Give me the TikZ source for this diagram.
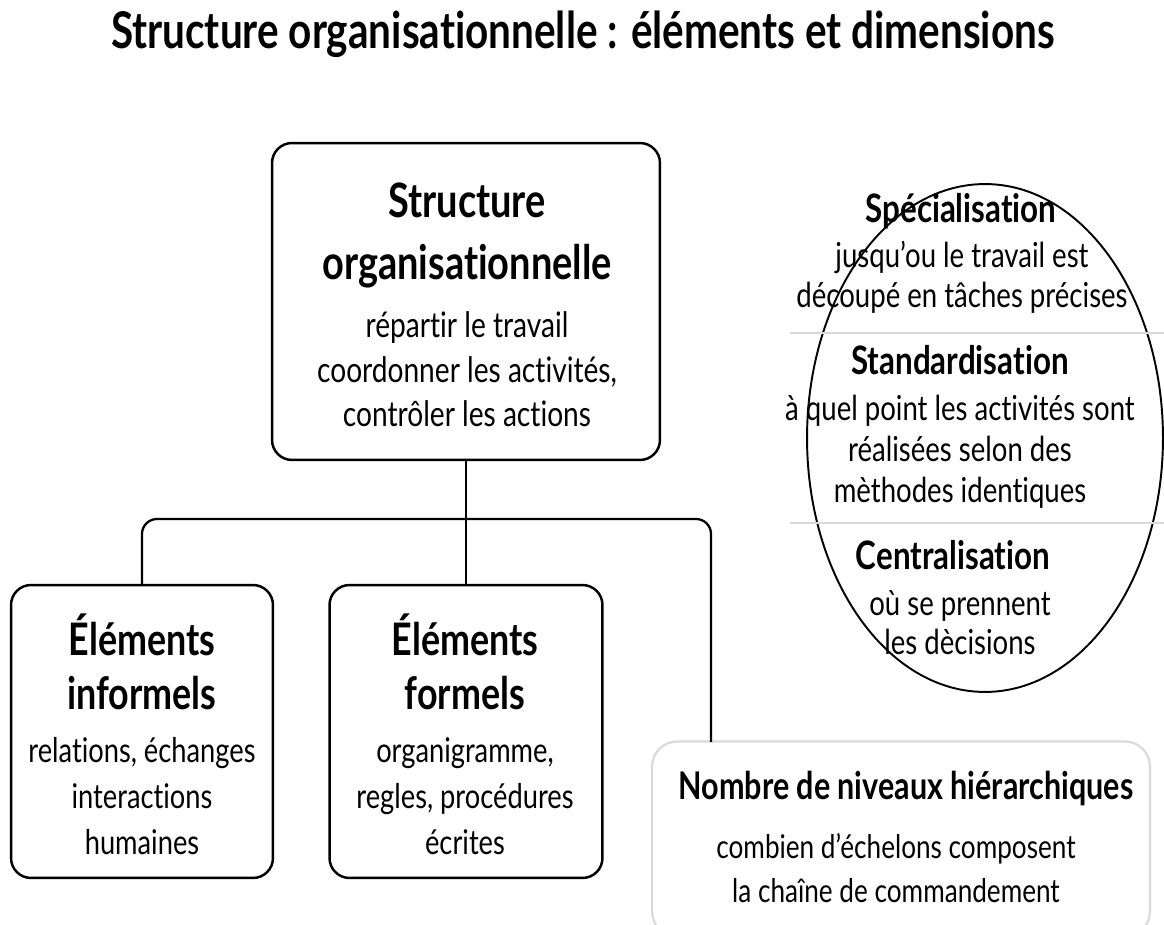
\documentclass[tikz,border=0pt]{standalone}
\usepackage{fontspec}
\setmainfont{Lato}[FakeStretch=0.80, Ligatures=NoCommon]
\usetikzlibrary{shapes.geometric}

\begin{document}
\begin{tikzpicture}[x=0.02cm, y=-0.02cm,
    box/.style = {draw, line width=1.4pt, rounded corners=0.4cm},
    head/.style = {align=center, anchor=base, font=\bfseries\fontsize{25.5}{31.2}\selectfont},
    body/.style = {align=center, anchor=base, font=\fontsize{19.4}{26.4}\selectfont},
    link/.style = {line width=1.3pt, rounded corners=0.3cm},
    divider/.style = {draw=gray!30, line width=1.2pt}]
\fill[white] (0,0) rectangle (1164,925);
\useasboundingbox (0,0) rectangle (1164,925);

\node[font=\bfseries\fontsize{28.8}{32}\selectfont, anchor=base] (title) at (583,49) {Structure organisationnelle : éléments et dimensions};

% boxes
\node[box, minimum width=7.76cm, minimum height=6.34cm] (struct) at (466,301.5) {};
\node[box, minimum width=5.24cm, minimum height=5.86cm] (informels) at (142,731.5) {};
\node[box, minimum width=5.46cm, minimum height=5.86cm] (formels) at (466,731.5) {};
\node[box, draw=gray!30, line width=1.2pt, rounded corners=0.5cm, minimum width=9.96cm, minimum height=3.9cm] (nombre) at (901,839) {};
\node[draw, ellipse, line width=1.1pt, minimum width=7.12cm, minimum height=10.16cm] (dims) at (985,438) {};
\draw[divider] (790,333) -- (1164,333);
\draw[divider] (790,523) -- (1164,523);

% texts (anchored on the baseline of their last line)
\node[head, font=\bfseries\fontsize{27}{35.7}\selectfont] (structh) at (467,280) {Structure\\organisationnelle};
\node[body, font=\fontsize{20}{25.5}\selectfont] (structb) at (467,427) {répartir le travail\\coordonner les activités,\\contrôler les actions};
\node[head] (informelsh) at (142,710) {Éléments\\informels};
\node[body] (informelsb) at (142,855) {relations, échanges\\interactions\\humaines};
\node[head] (formelsh) at (465,710) {Éléments\\formels};
\node[body] (formelsb) at (465,855) {organigramme,\\regles, procédures\\écrites};

\node[head, font=\bfseries\fontsize{22.3}{25}\selectfont] (spech) at (961,223) {Spécialisation};
\node[body, font=\fontsize{19.6}{23.3}\selectfont] (specb) at (962,308) {jusqu’ou le travail est\\découpé en tâches précises};
\node[head, font=\bfseries\fontsize{22.3}{25}\selectfont] (standh) at (960,375) {Standardisation};
\node[body, font=\fontsize{19.6}{23.5}\selectfont] (standb) at (960,503) {à quel point les activités sont\\réalisées selon des\\mèthodes identiques};
\node[head, font=\bfseries\fontsize{22.3}{25}\selectfont] (centh) at (953,570) {Centralisation};
\node[body, font=\fontsize{19.6}{22.7}\selectfont] (centb) at (960,655) {où se prennent\\les dècisions};

\node[head, font=\bfseries\fontsize{21.7}{25}\selectfont] (nombreh) at (906,800) {Nombre de niveaux hiérarchiques};
\node[body, font=\fontsize{18.6}{25.5}\selectfont] (nombreb) at (896,903) {combien d’échelons composent\\la chaîne de commandement};

% connectors
\coordinate (fork) at (466,519);
\coordinate (nombretop) at (711,742);
\draw[link] (struct.south) -- (formels.north);
\draw[link] (informels.north) |- (fork) -| (nombretop);
\end{tikzpicture}
\end{document}
